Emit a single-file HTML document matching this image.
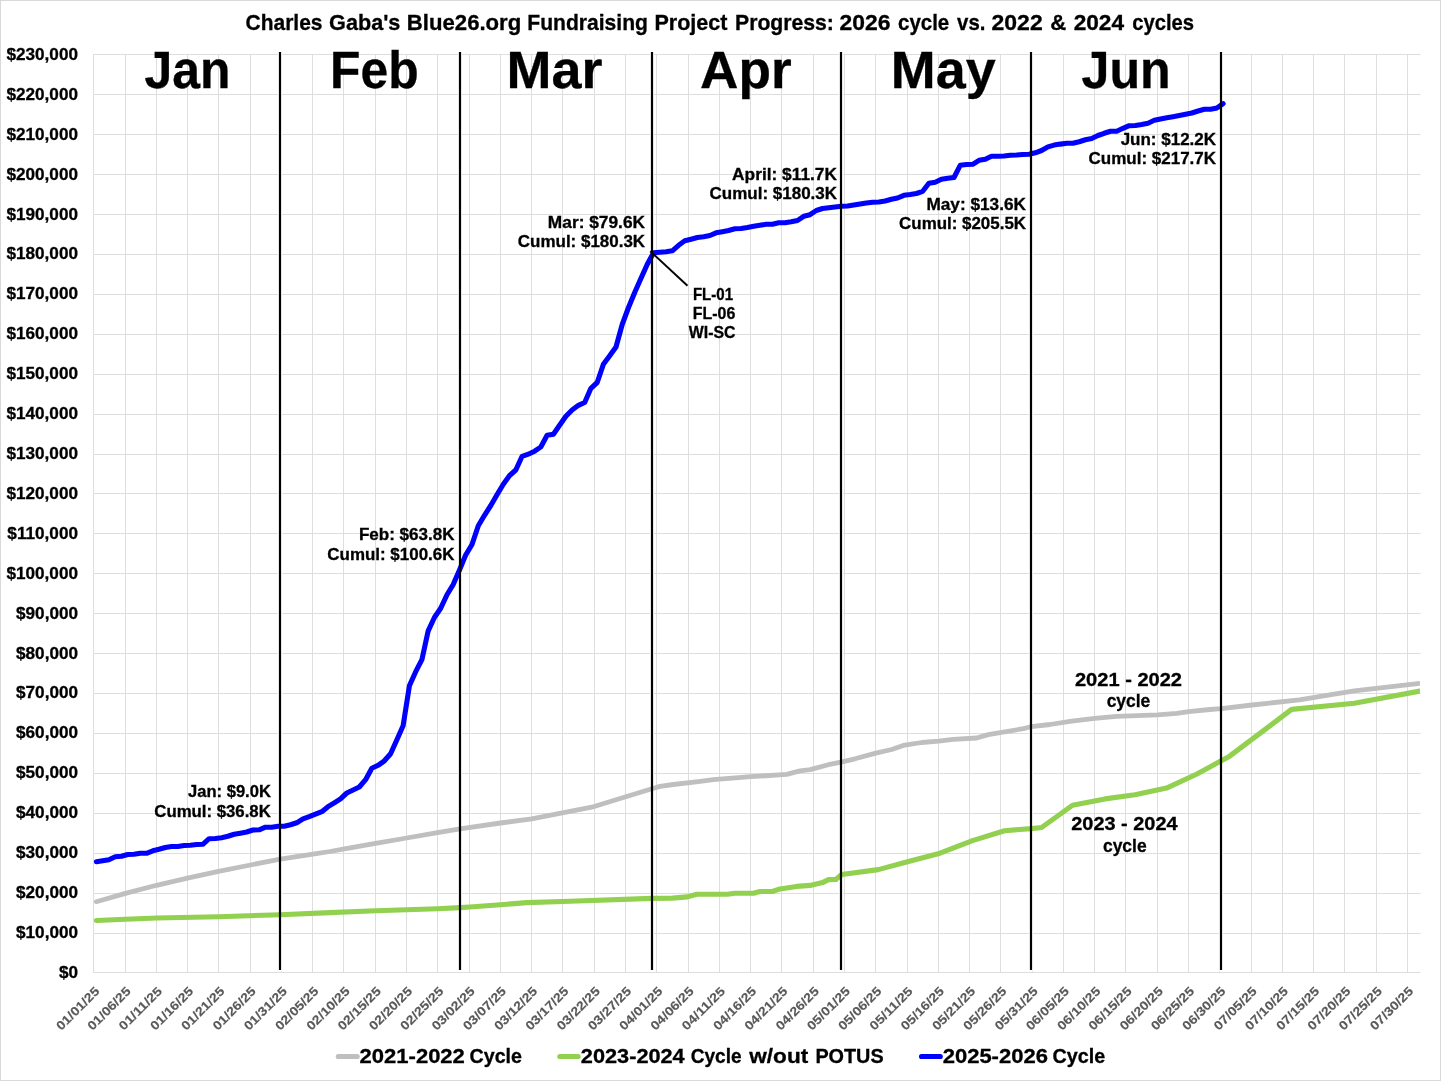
<!DOCTYPE html>
<html><head><meta charset="utf-8"><title>Blue26 Fundraising Progress</title>
<style>html,body{margin:0;padding:0;background:#fff}svg{display:block}text{font-family:"Liberation Sans",sans-serif;font-weight:bold;stroke:#000;stroke-width:0.3px}.xl text{stroke:#595959;stroke-width:0.12px}</style></head><body>
<svg width="1441" height="1081" viewBox="0 0 1441 1081">
<rect x="0.5" y="0.5" width="1440" height="1080" fill="#fff" stroke="#d9d9d9" stroke-width="1"/>
<path d="M93.0 54.5H1420.6M93.0 94.5H1420.6M93.0 134.5H1420.6M93.0 174.5H1420.6M93.0 214.5H1420.6M93.0 254.5H1420.6M93.0 294.5H1420.6M93.0 334.5H1420.6M93.0 374.5H1420.6M93.0 414.5H1420.6M93.0 454.5H1420.6M93.0 493.5H1420.6M93.0 533.5H1420.6M93.0 573.5H1420.6M93.0 613.5H1420.6M93.0 653.5H1420.6M93.0 693.5H1420.6M93.0 733.5H1420.6M93.0 773.5H1420.6M93.0 813.5H1420.6M93.0 853.5H1420.6M93.0 893.5H1420.6M93.0 933.5H1420.6M93.0 972.5H1420.6M93.5 54.0V973.0M125.5 54.0V973.0M156.5 54.0V973.0M187.5 54.0V973.0M218.5 54.0V973.0M250.5 54.0V973.0M281.5 54.0V973.0M312.5 54.0V973.0M343.5 54.0V973.0M375.5 54.0V973.0M406.5 54.0V973.0M437.5 54.0V973.0M469.5 54.0V973.0M500.5 54.0V973.0M531.5 54.0V973.0M562.5 54.0V973.0M594.5 54.0V973.0M625.5 54.0V973.0M656.5 54.0V973.0M688.5 54.0V973.0M719.5 54.0V973.0M750.5 54.0V973.0M781.5 54.0V973.0M813.5 54.0V973.0M844.5 54.0V973.0M875.5 54.0V973.0M907.5 54.0V973.0M938.5 54.0V973.0M969.5 54.0V973.0M1000.5 54.0V973.0M1032.5 54.0V973.0M1063.5 54.0V973.0M1094.5 54.0V973.0M1125.5 54.0V973.0M1157.5 54.0V973.0M1188.5 54.0V973.0M1219.5 54.0V973.0M1251.5 54.0V973.0M1282.5 54.0V973.0M1313.5 54.0V973.0M1344.5 54.0V973.0M1376.5 54.0V973.0M1407.5 54.0V973.0" fill="none" stroke="#dedede" stroke-width="1"/>
<g fill="#000">
<text transform="translate(58.98 977.85) scale(1.0410 1)" font-size="16.5">$0</text>
<text transform="translate(15.99 937.94) scale(1.0410 1)" font-size="16.5">$10,000</text>
<text transform="translate(15.99 898.02) scale(1.0410 1)" font-size="16.5">$20,000</text>
<text transform="translate(15.99 858.11) scale(1.0410 1)" font-size="16.5">$30,000</text>
<text transform="translate(15.99 818.20) scale(1.0410 1)" font-size="16.5">$40,000</text>
<text transform="translate(15.99 778.28) scale(1.0410 1)" font-size="16.5">$50,000</text>
<text transform="translate(15.99 738.37) scale(1.0410 1)" font-size="16.5">$60,000</text>
<text transform="translate(15.99 698.46) scale(1.0410 1)" font-size="16.5">$70,000</text>
<text transform="translate(15.99 658.54) scale(1.0410 1)" font-size="16.5">$80,000</text>
<text transform="translate(15.99 618.63) scale(1.0410 1)" font-size="16.5">$90,000</text>
<text transform="translate(6.42 578.72) scale(1.0410 1)" font-size="16.5">$100,000</text>
<text transform="translate(7.36 538.81) scale(1.0410 1)" font-size="16.5">$110,000</text>
<text transform="translate(6.42 498.89) scale(1.0410 1)" font-size="16.5">$120,000</text>
<text transform="translate(6.42 458.98) scale(1.0410 1)" font-size="16.5">$130,000</text>
<text transform="translate(6.42 419.07) scale(1.0410 1)" font-size="16.5">$140,000</text>
<text transform="translate(6.42 379.15) scale(1.0410 1)" font-size="16.5">$150,000</text>
<text transform="translate(6.42 339.24) scale(1.0410 1)" font-size="16.5">$160,000</text>
<text transform="translate(6.42 299.33) scale(1.0410 1)" font-size="16.5">$170,000</text>
<text transform="translate(6.42 259.41) scale(1.0410 1)" font-size="16.5">$180,000</text>
<text transform="translate(6.42 219.50) scale(1.0410 1)" font-size="16.5">$190,000</text>
<text transform="translate(6.42 179.59) scale(1.0410 1)" font-size="16.5">$200,000</text>
<text transform="translate(6.42 139.68) scale(1.0410 1)" font-size="16.5">$210,000</text>
<text transform="translate(6.42 99.76) scale(1.0410 1)" font-size="16.5">$220,000</text>
<text transform="translate(6.42 59.85) scale(1.0410 1)" font-size="16.5">$230,000</text>
</g>
<g class="xl" fill="#595959">
<text transform="translate(100.0 992.2) rotate(-45) scale(1.1434 1)" x="-47.96" font-size="12.4">01/01/25</text>
<text transform="translate(131.3 992.2) rotate(-45) scale(1.1434 1)" x="-47.96" font-size="12.4">01/06/25</text>
<text transform="translate(162.6 992.2) rotate(-45) scale(1.1600 1)" x="-47.27" font-size="12.4">01/11/25</text>
<text transform="translate(193.9 992.2) rotate(-45) scale(1.1434 1)" x="-47.96" font-size="12.4">01/16/25</text>
<text transform="translate(225.1 992.2) rotate(-45) scale(1.1434 1)" x="-47.96" font-size="12.4">01/21/25</text>
<text transform="translate(256.4 992.2) rotate(-45) scale(1.1434 1)" x="-47.96" font-size="12.4">01/26/25</text>
<text transform="translate(287.7 992.2) rotate(-45) scale(1.1434 1)" x="-47.96" font-size="12.4">01/31/25</text>
<text transform="translate(319.0 992.2) rotate(-45) scale(1.1434 1)" x="-47.96" font-size="12.4">02/05/25</text>
<text transform="translate(350.3 992.2) rotate(-45) scale(1.1434 1)" x="-47.96" font-size="12.4">02/10/25</text>
<text transform="translate(381.5 992.2) rotate(-45) scale(1.1434 1)" x="-47.96" font-size="12.4">02/15/25</text>
<text transform="translate(412.8 992.2) rotate(-45) scale(1.1434 1)" x="-47.96" font-size="12.4">02/20/25</text>
<text transform="translate(444.1 992.2) rotate(-45) scale(1.1434 1)" x="-47.96" font-size="12.4">02/25/25</text>
<text transform="translate(475.4 992.2) rotate(-45) scale(1.1434 1)" x="-47.96" font-size="12.4">03/02/25</text>
<text transform="translate(506.7 992.2) rotate(-45) scale(1.1434 1)" x="-47.96" font-size="12.4">03/07/25</text>
<text transform="translate(537.9 992.2) rotate(-45) scale(1.1434 1)" x="-47.96" font-size="12.4">03/12/25</text>
<text transform="translate(569.2 992.2) rotate(-45) scale(1.1434 1)" x="-47.96" font-size="12.4">03/17/25</text>
<text transform="translate(600.5 992.2) rotate(-45) scale(1.1434 1)" x="-47.96" font-size="12.4">03/22/25</text>
<text transform="translate(631.8 992.2) rotate(-45) scale(1.1434 1)" x="-47.96" font-size="12.4">03/27/25</text>
<text transform="translate(663.1 992.2) rotate(-45) scale(1.1434 1)" x="-47.96" font-size="12.4">04/01/25</text>
<text transform="translate(694.3 992.2) rotate(-45) scale(1.1434 1)" x="-47.96" font-size="12.4">04/06/25</text>
<text transform="translate(725.6 992.2) rotate(-45) scale(1.1600 1)" x="-47.27" font-size="12.4">04/11/25</text>
<text transform="translate(756.9 992.2) rotate(-45) scale(1.1434 1)" x="-47.96" font-size="12.4">04/16/25</text>
<text transform="translate(788.2 992.2) rotate(-45) scale(1.1434 1)" x="-47.96" font-size="12.4">04/21/25</text>
<text transform="translate(819.5 992.2) rotate(-45) scale(1.1434 1)" x="-47.96" font-size="12.4">04/26/25</text>
<text transform="translate(850.7 992.2) rotate(-45) scale(1.1434 1)" x="-47.96" font-size="12.4">05/01/25</text>
<text transform="translate(882.0 992.2) rotate(-45) scale(1.1434 1)" x="-47.96" font-size="12.4">05/06/25</text>
<text transform="translate(913.3 992.2) rotate(-45) scale(1.1600 1)" x="-47.27" font-size="12.4">05/11/25</text>
<text transform="translate(944.6 992.2) rotate(-45) scale(1.1434 1)" x="-47.96" font-size="12.4">05/16/25</text>
<text transform="translate(975.9 992.2) rotate(-45) scale(1.1434 1)" x="-47.96" font-size="12.4">05/21/25</text>
<text transform="translate(1007.1 992.2) rotate(-45) scale(1.1434 1)" x="-47.96" font-size="12.4">05/26/25</text>
<text transform="translate(1038.4 992.2) rotate(-45) scale(1.1434 1)" x="-47.96" font-size="12.4">05/31/25</text>
<text transform="translate(1069.7 992.2) rotate(-45) scale(1.1434 1)" x="-47.96" font-size="12.4">06/05/25</text>
<text transform="translate(1101.0 992.2) rotate(-45) scale(1.1434 1)" x="-47.96" font-size="12.4">06/10/25</text>
<text transform="translate(1132.3 992.2) rotate(-45) scale(1.1434 1)" x="-47.96" font-size="12.4">06/15/25</text>
<text transform="translate(1163.5 992.2) rotate(-45) scale(1.1434 1)" x="-47.96" font-size="12.4">06/20/25</text>
<text transform="translate(1194.8 992.2) rotate(-45) scale(1.1434 1)" x="-47.96" font-size="12.4">06/25/25</text>
<text transform="translate(1226.1 992.2) rotate(-45) scale(1.1434 1)" x="-47.96" font-size="12.4">06/30/25</text>
<text transform="translate(1257.4 992.2) rotate(-45) scale(1.1434 1)" x="-47.96" font-size="12.4">07/05/25</text>
<text transform="translate(1288.7 992.2) rotate(-45) scale(1.1434 1)" x="-47.96" font-size="12.4">07/10/25</text>
<text transform="translate(1319.9 992.2) rotate(-45) scale(1.1434 1)" x="-47.96" font-size="12.4">07/15/25</text>
<text transform="translate(1351.2 992.2) rotate(-45) scale(1.1434 1)" x="-47.96" font-size="12.4">07/20/25</text>
<text transform="translate(1382.5 992.2) rotate(-45) scale(1.1434 1)" x="-47.96" font-size="12.4">07/25/25</text>
<text transform="translate(1413.8 992.2) rotate(-45) scale(1.1434 1)" x="-47.96" font-size="12.4">07/30/25</text>
</g>
<line x1="280.0" y1="51.2" x2="280.0" y2="970.9" stroke="#fff" stroke-width="4.2"/>
<line x1="460.0" y1="51.2" x2="460.0" y2="970.9" stroke="#fff" stroke-width="4.2"/>
<line x1="652.0" y1="51.2" x2="652.0" y2="970.9" stroke="#fff" stroke-width="4.2"/>
<line x1="841.0" y1="51.2" x2="841.0" y2="970.9" stroke="#fff" stroke-width="4.2"/>
<line x1="1031.0" y1="51.2" x2="1031.0" y2="970.9" stroke="#fff" stroke-width="4.2"/>
<line x1="1221.0" y1="51.2" x2="1221.0" y2="970.9" stroke="#fff" stroke-width="4.2"/>
<clipPath id="pc"><rect x="88.7" y="0" width="1331.2" height="1081"/></clipPath>
<g fill="none" stroke-width="5.1" stroke-linecap="round" stroke-linejoin="round" clip-path="url(#pc)">
<polyline stroke="#bfbfbf" stroke-width="4.8" points="96.3,901.7 125.5,893.4 156.5,885.3 187.5,878.2 218.5,871.3 250.5,865.0 280.3,859.2 313.0,854.2 330.0,851.5 344.5,848.8 375.5,843.4 406.7,838.0 437.5,832.7 460.0,828.8 500.5,823.0 531.7,818.8 570.0,811.3 591.7,807.2 625.8,796.7 652.0,788.7 660.0,786.4 673.3,784.5 698.3,781.7 713.3,779.7 750.8,776.7 786.7,774.4 800.0,770.9 810.2,769.6 828.3,764.7 841.0,762.2 855.0,758.8 875.8,753.1 891.7,749.5 903.3,745.4 921.7,742.5 938.7,741.2 953.3,739.4 976.7,738.0 988.3,734.6 1023.3,728.7 1031.2,726.6 1050.0,724.5 1071.7,721.2 1094.7,718.4 1116.7,716.3 1157.5,714.8 1176.7,713.3 1188.7,711.7 1210.0,709.5 1221.2,708.7 1252.0,705.0 1299.3,699.8 1354.3,690.8 1419.8,683.3"/>
<polyline stroke="#92d050" points="96.3,920.5 125.5,919.2 156.5,918.0 218.5,916.7 280.3,914.7 330.0,912.6 375.5,910.8 437.5,908.7 460.0,907.6 469.7,907.0 500.5,904.7 526.7,902.6 570.0,901.3 652.0,898.4 672.4,898.1 687.4,896.9 696.8,894.3 727.4,894.3 734.9,893.2 753.5,893.2 759.9,891.5 772.4,891.5 780.0,888.9 796.5,886.4 810.0,885.4 822.5,882.6 828.5,879.6 835.8,879.5 841.7,874.5 878.3,869.6 907.5,861.7 940.0,853.2 972.5,840.6 1004.5,830.7 1031.2,828.6 1041.6,827.5 1072.5,805.3 1105.0,798.9 1135.0,794.8 1166.5,788.1 1197.0,774.0 1221.2,760.8 1229.3,756.4 1291.6,709.4 1354.3,703.3 1419.8,691.1"/>
<polyline stroke="#0000ff" points="96.4,861.7 102.7,860.7 108.9,859.7 115.2,856.7 121.5,856.3 127.7,854.5 134.0,854.3 140.2,853.3 146.5,853.3 152.8,850.8 159.0,849.3 165.3,847.5 171.5,846.5 177.8,846.5 184.1,845.5 190.3,845.3 196.6,844.5 202.8,844.3 209.1,838.7 215.4,838.5 221.6,837.7 227.9,836.3 234.1,834.3 240.4,833.2 246.7,832.0 252.9,830.0 259.2,829.8 265.4,827.2 271.7,827.2 278.0,826.3 284.2,826.2 290.5,824.7 296.7,822.8 303.0,818.8 309.2,816.7 315.5,814.2 321.8,811.7 328.0,806.7 334.3,802.8 340.5,798.8 346.8,793.0 353.1,790.0 359.3,787.0 365.6,779.7 371.8,768.3 378.1,765.3 384.4,760.8 390.6,753.7 396.9,739.7 403.1,725.8 409.4,685.8 415.7,671.7 421.9,659.7 428.2,630.8 434.4,617.5 440.7,608.3 447.0,594.7 453.2,584.5 459.5,570.0 465.7,555.0 472.0,544.5 478.3,525.8 484.5,515.3 490.8,505.5 497.0,494.7 503.3,484.2 509.6,475.5 515.8,470.0 522.1,456.3 528.3,454.2 534.6,451.2 540.8,447.0 547.1,435.3 553.4,434.2 559.6,425.3 565.9,416.2 572.1,410.0 578.4,405.3 584.7,402.5 590.9,388.3 597.2,382.5 603.4,364.2 609.7,355.8 616.0,347.0 622.2,324.5 628.5,307.5 634.7,292.5 641.0,278.3 647.3,264.2 653.5,252.8 659.8,252.3 666.0,251.7 672.3,250.8 678.6,245.3 684.8,240.8 691.1,239.2 697.3,237.5 703.6,236.7 709.9,235.5 716.1,232.8 722.4,231.7 728.6,230.5 734.9,228.8 741.1,228.5 747.4,227.5 753.7,226.3 759.9,225.3 766.2,224.3 772.4,224.2 778.7,222.8 785.0,222.7 791.2,221.8 797.5,220.5 803.7,216.3 810.0,214.7 816.3,210.5 822.5,208.5 828.8,207.8 835.0,207.0 841.3,206.3 847.6,206.0 853.8,205.0 860.1,204.0 866.3,203.0 872.6,202.2 878.9,202.0 885.1,201.0 891.4,199.3 897.6,198.0 903.9,195.3 910.2,194.5 916.4,193.5 922.7,191.3 928.9,183.3 935.2,182.3 941.4,179.3 947.7,178.3 954.0,177.5 960.2,165.3 966.5,164.5 972.7,164.3 979.0,160.3 985.3,159.2 991.5,156.2 997.8,156.2 1004.0,156.0 1010.3,155.2 1016.6,155.0 1022.8,154.5 1029.1,154.3 1035.3,152.8 1041.6,150.5 1047.9,146.9 1054.1,145.1 1060.4,144.1 1066.6,143.3 1072.9,143.3 1079.2,141.7 1085.4,139.7 1091.7,138.5 1097.9,135.5 1104.2,133.3 1110.5,131.3 1116.7,131.2 1123.0,128.3 1129.2,125.7 1135.5,125.5 1141.7,124.5 1148.0,123.2 1154.3,120.3 1160.5,119.0 1166.8,117.8 1173.0,116.7 1179.3,115.5 1185.6,114.3 1191.8,113.0 1198.1,111.0 1204.3,109.3 1210.6,109.2 1216.9,108.0 1223.1,103.7"/>
</g>
<line x1="280.0" y1="52.1" x2="280.0" y2="969.9" stroke="#000" stroke-width="2.2"/>
<line x1="460.0" y1="52.1" x2="460.0" y2="969.9" stroke="#000" stroke-width="2.2"/>
<line x1="652.0" y1="52.1" x2="652.0" y2="969.9" stroke="#000" stroke-width="2.2"/>
<line x1="841.0" y1="52.1" x2="841.0" y2="969.9" stroke="#000" stroke-width="2.2"/>
<line x1="1031.0" y1="52.1" x2="1031.0" y2="969.9" stroke="#000" stroke-width="2.2"/>
<line x1="1221.0" y1="52.1" x2="1221.0" y2="969.9" stroke="#000" stroke-width="2.2"/>
<line x1="650.3" y1="251.2" x2="687.5" y2="285.8" stroke="#000" stroke-width="1.9"/>
<text y="30.00" font-size="21.6"><tspan x="245.56" textLength="76.95" lengthAdjust="spacingAndGlyphs">Charles</tspan> <tspan x="329.13" textLength="71.28" lengthAdjust="spacingAndGlyphs">Gaba's</tspan> <tspan x="406.86" textLength="114.39" lengthAdjust="spacingAndGlyphs">Blue26.org</tspan> <tspan x="527.33" textLength="120.64" lengthAdjust="spacingAndGlyphs">Fundraising</tspan> <tspan x="654.40" textLength="73.02" lengthAdjust="spacingAndGlyphs">Project</tspan> <tspan x="735.02" textLength="98.91" lengthAdjust="spacingAndGlyphs">Progress:</tspan> <tspan x="839.56" textLength="50.84" lengthAdjust="spacingAndGlyphs">2026</tspan> <tspan x="898.03" textLength="51.23" lengthAdjust="spacingAndGlyphs">cycle</tspan> <tspan x="957.05" textLength="28.33" lengthAdjust="spacingAndGlyphs">vs.</tspan> <tspan x="991.55" textLength="51.16" lengthAdjust="spacingAndGlyphs">2022</tspan> <tspan x="1050.36" textLength="16.00" lengthAdjust="spacingAndGlyphs">&amp;</tspan> <tspan x="1073.66" textLength="50.44" lengthAdjust="spacingAndGlyphs">2024</tspan> <tspan x="1132.24" textLength="61.84" lengthAdjust="spacingAndGlyphs">cycles</tspan></text>
<text transform="translate(144.55 87.60) scale(0.9783 1)" font-size="51.0">Jan</text>
<text transform="translate(330.06 87.60) scale(0.9778 1)" font-size="51.0">Feb</text>
<text transform="translate(506.49 87.60) scale(1.0577 1)" font-size="51.0">Mar</text>
<text transform="translate(700.07 87.60) scale(1.0419 1)" font-size="51.0">Apr</text>
<text transform="translate(890.80 87.60) scale(1.0569 1)" font-size="51.0">May</text>
<text transform="translate(1081.55 87.60) scale(0.9836 1)" font-size="51.0">Jun</text>
<text transform="translate(188.05 797.40) scale(1.0419 1)" font-size="15.9">Jan: $9.0K</text>
<text transform="translate(154.33 816.60) scale(1.0555 1)" font-size="15.9">Cumul: $36.8K</text>
<text transform="translate(358.89 540.00) scale(1.0712 1)" font-size="15.9">Feb: $63.8K</text>
<text transform="translate(327.32 559.60) scale(1.0664 1)" font-size="15.9">Cumul: $100.6K</text>
<text transform="translate(547.87 227.90) scale(1.0894 1)" font-size="15.9">Mar: $79.6K</text>
<text transform="translate(517.82 246.90) scale(1.0672 1)" font-size="15.9">Cumul: $180.3K</text>
<text transform="translate(732.07 179.90) scale(1.0908 1)" font-size="15.9">April: $11.7K</text>
<text transform="translate(709.52 198.90) scale(1.0697 1)" font-size="15.9">Cumul: $180.3K</text>
<text transform="translate(926.38 209.90) scale(1.0849 1)" font-size="15.9">May: $13.6K</text>
<text transform="translate(899.12 228.90) scale(1.0647 1)" font-size="15.9">Cumul: $205.5K</text>
<text transform="translate(1120.64 144.90) scale(1.0695 1)" font-size="15.9">Jun: $12.2K</text>
<text transform="translate(1088.52 163.90) scale(1.0697 1)" font-size="15.9">Cumul: $217.7K</text>
<text transform="translate(692.92 299.80) scale(0.9452 1)" font-size="15.9">FL-01</text>
<text transform="translate(692.86 319.00) scale(1.0019 1)" font-size="15.9">FL-06</text>
<text transform="translate(688.80 338.00) scale(0.9981 1)" font-size="15.9">WI-SC</text>
<text transform="translate(1074.95 685.70) scale(1.1210 1)" font-size="17.9">2021 - 2022</text>
<text transform="translate(1106.64 706.90) scale(0.9761 1)" font-size="17.9">cycle</text>
<text transform="translate(1071.25 829.60) scale(1.1136 1)" font-size="17.9">2023 - 2024</text>
<text transform="translate(1102.94 851.60) scale(0.9761 1)" font-size="17.9">cycle</text>
<g stroke-width="5.1" stroke-linecap="round">
<line x1="338.3" y1="1056.5" x2="357.2" y2="1056.5" stroke="#bfbfbf"/>
<line x1="559.8" y1="1056.5" x2="578.1" y2="1056.5" stroke="#92d050"/>
<line x1="921.5" y1="1056.5" x2="940.3" y2="1056.5" stroke="#0000ff"/>
</g>
<text y="1063.10" font-size="20.2"><tspan x="359.58" textLength="105.29" lengthAdjust="spacingAndGlyphs">2021-2022</tspan> <tspan x="469.51" textLength="52.55" lengthAdjust="spacingAndGlyphs">Cycle</tspan></text>
<text y="1063.10" font-size="20.2"><tspan x="580.89" textLength="103.81" lengthAdjust="spacingAndGlyphs">2023-2024</tspan> <tspan x="690.64" textLength="51.01" lengthAdjust="spacingAndGlyphs">Cycle</tspan> <tspan x="749.31" textLength="58.92" lengthAdjust="spacingAndGlyphs">w/out</tspan> <tspan x="815.41" textLength="68.23" lengthAdjust="spacingAndGlyphs">POTUS</tspan></text>
<text y="1063.10" font-size="20.2"><tspan x="942.69" textLength="105.18" lengthAdjust="spacingAndGlyphs">2025-2026</tspan> <tspan x="1052.61" textLength="52.65" lengthAdjust="spacingAndGlyphs">Cycle</tspan></text>
</svg></body></html>
